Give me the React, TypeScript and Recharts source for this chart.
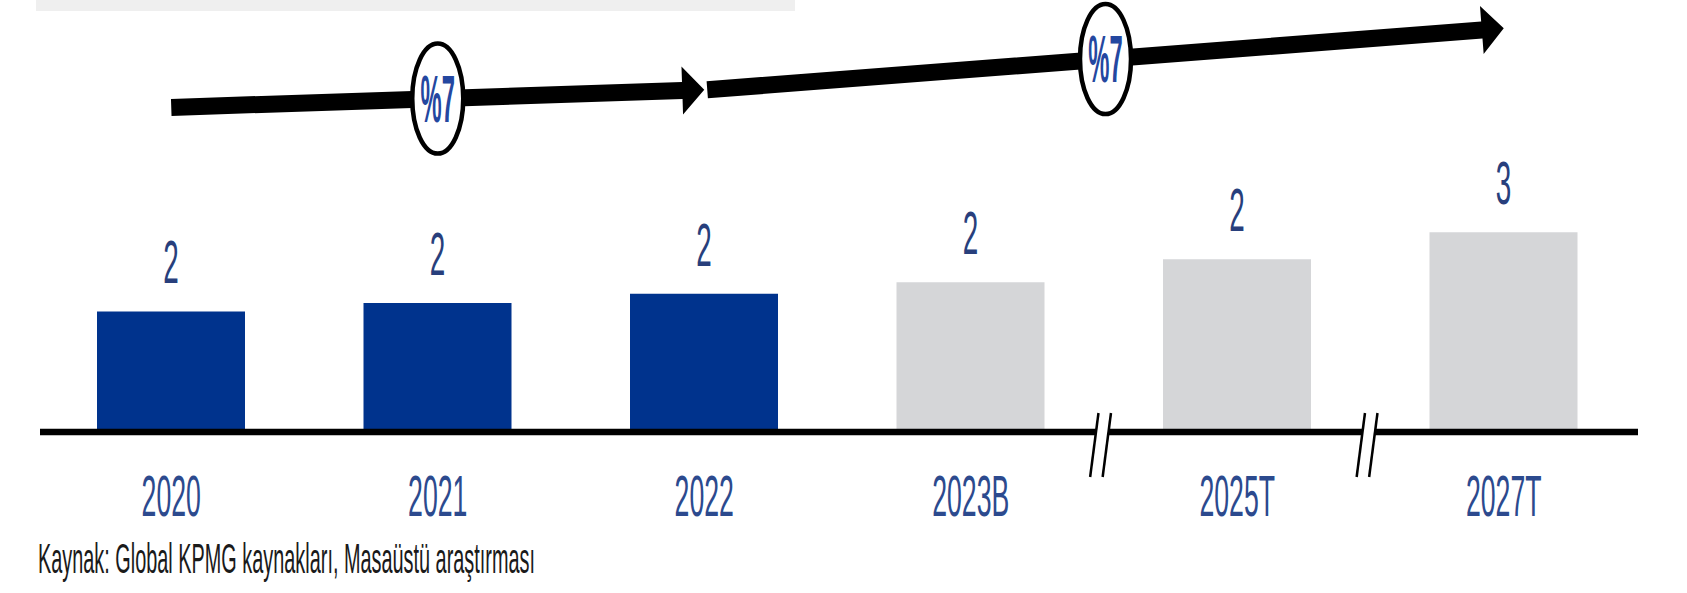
import React from 'react';
import { BarChart, Bar, XAxis, YAxis, Cell, LabelList, ReferenceLine } from 'recharts';

const categories = ['2020', '2021', '2022', '2023B', '2025T', '2027T'];
const values = [1.57, 1.68, 1.8, 1.95, 2.25, 2.6];
const valueLabels = ['2', '2', '2', '2', '2', '3'];
const forecast = [false, false, false, true, true, true];

// growth arrows: from / to category, rate label
const growthFrom = ['2020', '2022'];
const growthTo = ['2022', '2027T'];
const growthLabels = ['%7', '%7'];

// axis breaks (//) drawn just before these categories
const axisBreaksBefore = ['2025T', '2027T'];

const sourceText = 'Kaynak: Global KPMG kaynakları, Masaüstü araştırması';

const data = categories.map((year, i) => ({
  year,
  value: values[i],
  label: valueLabels[i],
  forecast: forecast[i],
}));

const W = 1687;
const H = 593;
const FONT = '"Liberation Sans", Arial, sans-serif';
const BLUE = '#00338D';
const GREY = '#d5d6d8';
const ARROW_RISE = 204;

const arrowShape = (label: string, nudge: number) => (p: any) => {
  const x1 = p.x1 + nudge;
  const y1 = p.y1 - ARROW_RISE;
  const x2 = p.x2;
  const y2 = p.y2 - ARROW_RISE;
  const len = Math.hypot(x2 - x1, y2 - y1);
  const ux = (x2 - x1) / len;
  const uy = (y2 - y1) / len;
  const nx = -uy;
  const ny = ux;
  const half = 8.5;
  const head = 22;
  const headHalf = 24;
  const bx = x2 - ux * head;
  const by = y2 - uy * head;
  const pts = [
    [x1 + nx * half, y1 + ny * half],
    [bx + nx * half, by + ny * half],
    [bx + nx * headHalf, by + ny * headHalf],
    [x2, y2],
    [bx - nx * headHalf, by - ny * headHalf],
    [bx - nx * half, by - ny * half],
    [x1 - nx * half, y1 - ny * half],
  ];
  const cx = (x1 + x2) / 2;
  const cy = (y1 + y2) / 2;
  return (
    <g>
      <polygon points={pts.map((q) => q.join(',')).join(' ')} fill="#000" />
      <ellipse cx={cx} cy={cy} rx={25.5} ry={55} fill="#fff" stroke="#000" strokeWidth={4.5} />
      <text
        transform={`translate(${cx},${cy + 23}) scale(0.36,1)`}
        textAnchor="middle"
        fontSize={66}
        fontWeight="bold"
        fontFamily={FONT}
        fill="#2447a0"
      >
        {label}
      </text>
    </g>
  );
};

const axisShape = (p: any) => {
  const left = Math.min(p.x1, p.x2);
  const right = Math.max(p.x1, p.x2);
  const y = p.y1;
  const band = (right - left) / categories.length;
  const slope = -0.13;
  const breaks = axisBreaksBefore.map((c) => left + band * categories.indexOf(c) - 1);
  return (
    <g>
      <line x1={left + 2} x2={right + 1} y1={y} y2={y} stroke="#000" strokeWidth={6.5} />
      {breaks.map((bx, i) => {
        const l = bx - 7;
        const r = bx + 5.5;
        const at = (x0: number, t: number) => x0 + slope * (t - y);
        return (
          <g key={i}>
            <polygon
              points={`${at(l, y - 5)},${y - 5} ${at(r, y - 5)},${y - 5} ${at(r, y + 5)},${y + 5} ${at(l, y + 5)},${y + 5}`}
              fill="#fff"
            />
            <line x1={at(l, y - 19)} y1={y - 19} x2={at(l, y + 45)} y2={y + 45} stroke="#000" strokeWidth={2.5} />
            <line x1={at(r, y - 19)} y1={y - 19} x2={at(r, y + 45)} y2={y + 45} stroke="#000" strokeWidth={2.5} />
          </g>
        );
      })}
    </g>
  );
};

const YearTick = (p: any) => (
  <g transform={`translate(${p.x},${p.y})`}>
    <text y={84} transform="scale(0.46,1)" textAnchor="middle" fontSize={58} fontFamily={FONT} fill="#2c4a8e">
      {p.payload.value}
    </text>
  </g>
);

const ValueLabel = (p: any) => {
  const { x, y, width, value } = p;
  return (
    <text
      transform={`translate(${Number(x) + Number(width) / 2},${Number(y) - 28}) scale(0.45,1)`}
      textAnchor="middle"
      fontSize={62}
      fontFamily={FONT}
      fill="#283f7c"
    >
      {value}
    </text>
  );
};

export default function App() {
  return (
    <div style={{ position: 'absolute', left: 0, top: 0, width: W, height: H, background: '#fff', overflow: 'hidden' }}>
      <BarChart width={W} height={H} data={data} margin={{ top: 48, right: 50, bottom: 101, left: 38 }}>
        <XAxis
          dataKey="year"
          height={60}
          tickSize={0}
          tickMargin={0}
          axisLine={false}
          tickLine={false}
          interval={0}
          tick={YearTick}
        />
        <YAxis hide domain={[0, 5]} />
        <Bar dataKey="value" barSize={148} isAnimationActive={false}>
          {data.map((d) => (
            <Cell key={d.year} fill={d.forecast ? GREY : BLUE} />
          ))}
          <LabelList dataKey="label" content={ValueLabel} />
        </Bar>
        <ReferenceLine y={0} shape={axisShape} />
        {growthLabels.map((lbl, i) => (
          <ReferenceLine
            key={i}
            segment={[
              { x: growthFrom[i], y: values[categories.indexOf(growthFrom[i])] },
              { x: growthTo[i], y: values[categories.indexOf(growthTo[i])] },
            ]}
            shape={arrowShape(lbl, i === 0 ? 0 : 3)}
          />
        ))}
      </BarChart>
      <div style={{ position: 'absolute', left: 36, top: 0, width: 759, height: 11, background: '#efefef' }} />
      <svg width={W} height={H} style={{ position: 'absolute', left: 0, top: 0, pointerEvents: 'none' }}>
        <text x={38} y={573} fontSize={42} fontFamily={FONT} fill="#1a1a1a" textLength={497} lengthAdjust="spacingAndGlyphs">
          {sourceText}
        </text>
      </svg>
    </div>
  );
}
